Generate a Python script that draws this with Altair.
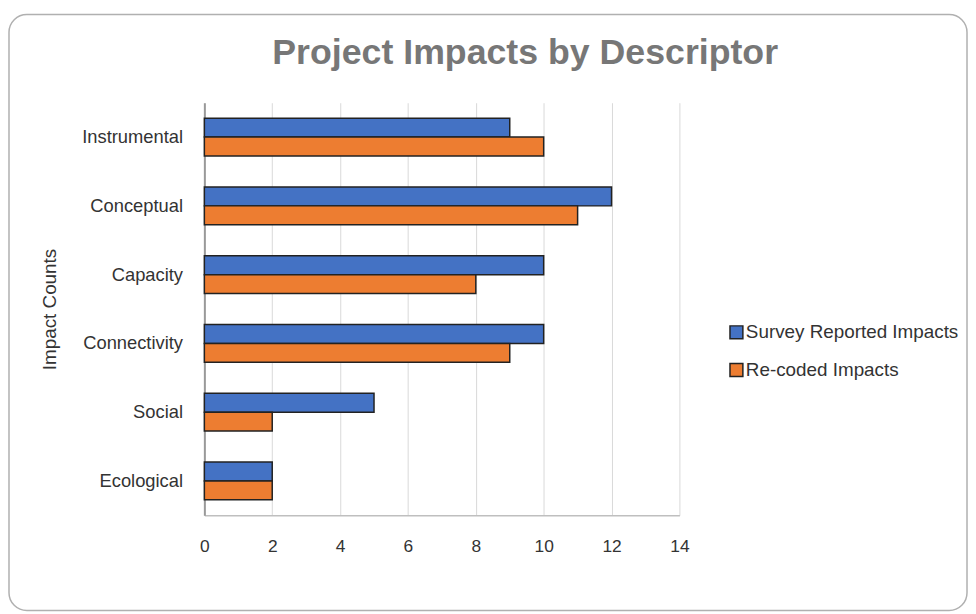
import altair as alt
import pandas as pd

categories = ["Instrumental", "Conceptual", "Capacity", "Connectivity", "Social", "Ecological"]
survey = [9, 12, 10, 10, 5, 2]
recoded = [10, 11, 8, 9, 2, 2]
series = ["Survey Reported Impacts", "Re-coded Impacts"]
colors = ["#4472C4", "#ED7D31"]
x_ticks = [0, 2, 4, 6, 8, 10, 12, 14]

rows = []
for c, s, r in zip(categories, survey, recoded):
    rows.append({"Descriptor": c, "Series": series[0], "Count": s})
    rows.append({"Descriptor": c, "Series": series[1], "Count": r})
df = pd.DataFrame(rows)

FONT = "Liberation Sans"
TXT = "#333333"

bars = alt.Chart(df).mark_bar(stroke="#222222", strokeWidth=1.5).encode(
    x=alt.X("Count:Q",
            scale=alt.Scale(domain=[0, 14], nice=False),
            axis=alt.Axis(values=x_ticks, title=None, grid=True, gridColor="#d9d9d9",
                          ticks=False, domainColor="#bfbfbf", domainWidth=1.5,
                          labelFontSize=17.5, labelPadding=23, labelColor=TXT,
                          labelFont=FONT, labelFlush=False)),
    y=alt.Y("Descriptor:N", sort=categories,
            scale=alt.Scale(paddingInner=0.45, paddingOuter=0.225),
            axis=alt.Axis(title="Impact Counts", ticks=False, domainColor="#999999",
                          domainWidth=2, labelFontSize=18.5, labelPadding=22,
                          labelColor=TXT, labelFont=FONT,
                          titleFont=FONT, titleFontSize=19, titleFontWeight="normal",
                          titleColor=TXT, titleX=-156, titleY=208,
                          titleAngle=-90, titleBaseline="middle", titleAlign="center")),
    yOffset=alt.YOffset("Series:N", sort=series,
                        scale=alt.Scale(paddingInner=0, paddingOuter=0)),
    fill=alt.Fill("Series:N", sort=series,
                  scale=alt.Scale(domain=series, range=colors),
                  legend=alt.Legend(title=None, orient="none", legendX=527, legendY=222,
                                    symbolType="square", symbolSize=169,
                                    symbolStrokeColor="#222222", symbolStrokeWidth=1.5,
                                    labelFontSize=19, labelFont=FONT, labelColor=TXT,
                                    labelOffset=0, rowPadding=18, labelLimit=400)),
)

frame = alt.Chart(pd.DataFrame({"a": [0]})).mark_rect(
    fill="transparent", stroke="#b0b0b0", strokeWidth=1.5, cornerRadius=18
).encode(x=alt.value(-197), x2=alt.value(769), y=alt.value(-89), y2=alt.value(512))

chart = alt.layer(frame, bars).properties(
    width=479, height=416,
    title=alt.Title("Project Impacts by Descriptor", font=FONT, fontSize=36,
                    fontWeight="bold", color="#777777", anchor="middle",
                    frame="group", dx=84, offset=0, dy=87, baseline="alphabetic"),
    autosize=alt.AutoSizeParams(type="none"),
    padding={"left": 198, "top": 93, "right": 291, "bottom": 97},
).configure_view(stroke=None)

chart.save("out.html", embed_options={"renderer": "svg", "actions": False})
